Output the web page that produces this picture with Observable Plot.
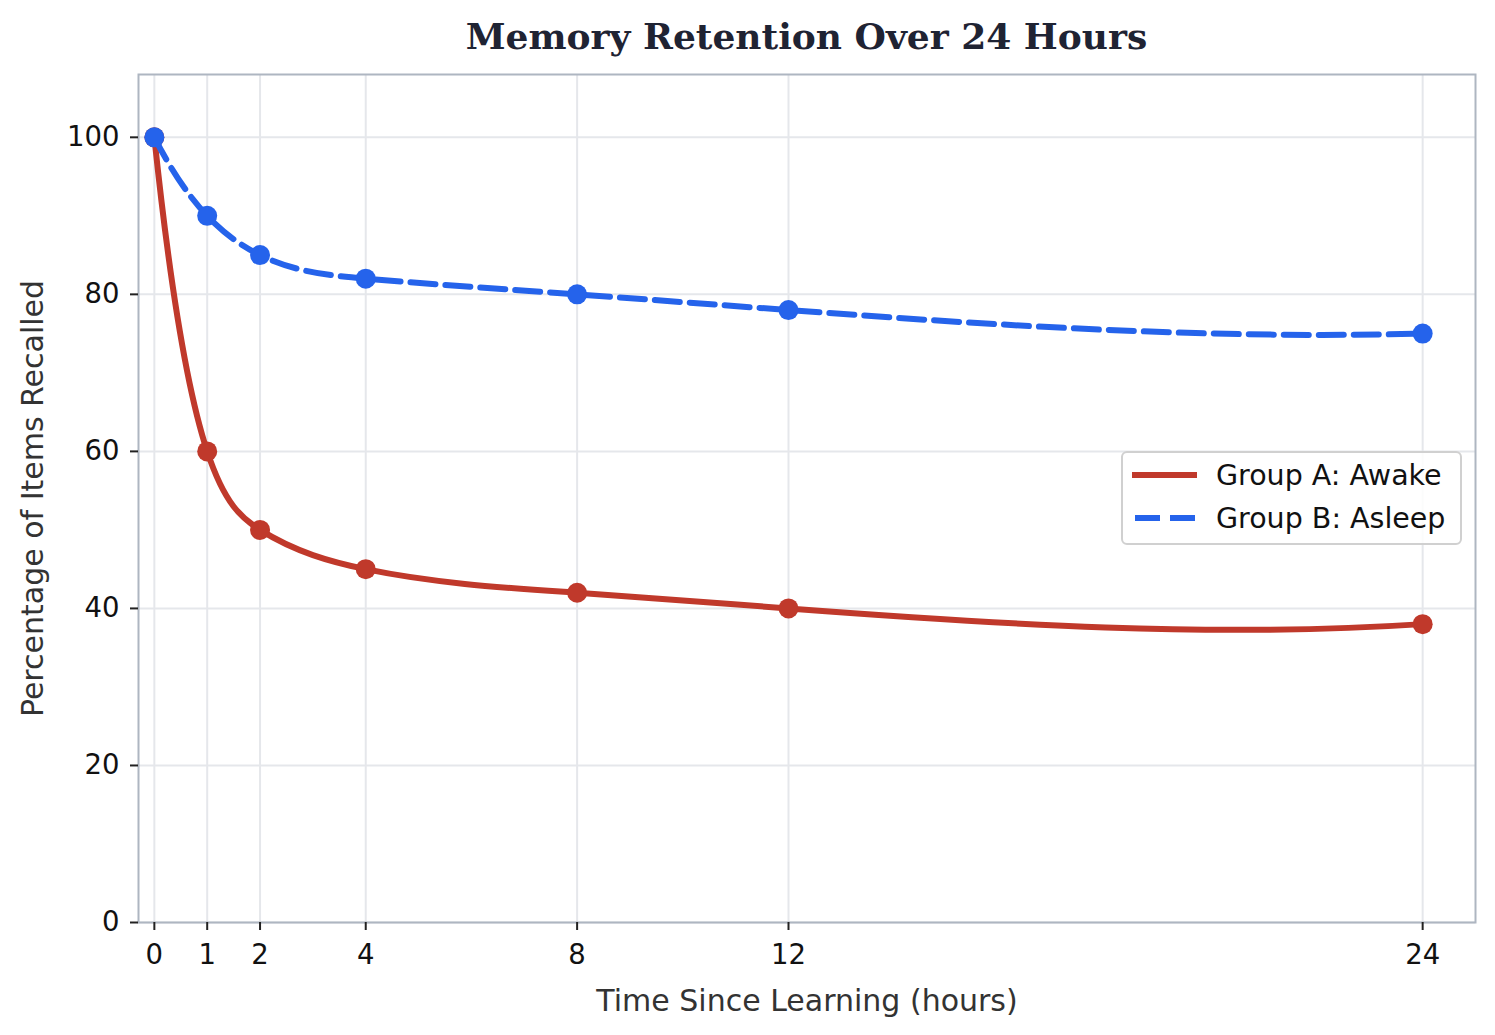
<!DOCTYPE html>
<html>
<head>
<meta charset="utf-8">
<script src="https://cdn.jsdelivr.net/npm/d3@7"></script>
<script src="https://cdn.jsdelivr.net/npm/@observablehq/plot@0.6"></script>
<style>
  html, body { margin: 0; padding: 0; background: #fff; }
  #wrap { position: relative; width: 1495px; height: 1035px; font-family: "DejaVu Sans", sans-serif; }
  #title { height: 60px; line-height: 72px; text-align: center; font-family: "DejaVu Serif", serif; font-weight: bold; font-size: 36px; color: #1f2333; padding-left: 118px; box-sizing: border-box; }
  #legend { position: absolute; left: 1121px; top: 451px; width: 341px; height: 94px; box-sizing: border-box; border: 2px solid #d0d0d0; border-radius: 6px; background: rgba(255,255,255,0.85); }
  .row { position: absolute; left: 7px; height: 40px; display: flex; align-items: center; font-size: 28.5px; color: #111; }
  .row svg { margin-right: 18px; }
</style>
</head>
<body>
<div id="wrap">
  <div id="title">Memory Retention Over 24 Hours</div>
  <div id="chart"></div>
  <div id="legend"></div>
</div>
<script>
const hours = [0, 1, 2, 4, 8, 12, 24];
const awake = [100, 60, 50, 45, 42, 40, 38];
const asleep = [100, 90, 85, 82, 80, 78, 75];
const xTicks = [0, 1, 2, 4, 8, 12, 24];
const yTicks = [0, 20, 40, 60, 80, 100];
const seriesNames = ["Group A: Awake", "Group B: Asleep"];
const colors = ["#c0392b", "#2563eb"];

const dataA = hours.map((h, i) => ({ h, v: awake[i] }));
const dataB = hours.map((h, i) => ({ h, v: asleep[i] }));

// Custom curve: cubic spline y(x) with not-a-knot end conditions, drawn as exact Bezier segments
function solve(A, b) {
  const n = b.length;
  A = A.map(r => r.slice()); b = b.slice();
  for (let c = 0; c < n; c++) {
    let p = c;
    for (let r = c + 1; r < n; r++) if (Math.abs(A[r][c]) > Math.abs(A[p][c])) p = r;
    [A[c], A[p]] = [A[p], A[c]]; [b[c], b[p]] = [b[p], b[c]];
    for (let r = c + 1; r < n; r++) {
      const f = A[r][c] / A[c][c];
      for (let k = c; k < n; k++) A[r][k] -= f * A[c][k];
      b[r] -= f * b[c];
    }
  }
  const x = new Array(n).fill(0);
  for (let r = n - 1; r >= 0; r--) {
    let s = b[r];
    for (let k = r + 1; k < n; k++) s -= A[r][k] * x[k];
    x[r] = s / A[r][r];
  }
  return x;
}
function splineCurve(context) {
  let pts = [];
  return {
    areaStart() {}, areaEnd() {},
    lineStart() { pts = []; },
    point(x, y) { pts.push([+x, +y]); },
    lineEnd() {
      const n = pts.length;
      if (n === 0) return;
      context.moveTo(pts[0][0], pts[0][1]);
      if (n < 4) { for (let i = 1; i < n; i++) context.lineTo(pts[i][0], pts[i][1]); return; }
      const X = pts.map(p => p[0]), Y = pts.map(p => p[1]);
      const h = []; for (let i = 0; i < n - 1; i++) h.push(X[i + 1] - X[i]);
      const A = Array.from({ length: n }, () => new Array(n).fill(0));
      const b = new Array(n).fill(0);
      A[0][0] = h[1]; A[0][1] = -(h[0] + h[1]); A[0][2] = h[0];
      for (let i = 1; i < n - 1; i++) {
        A[i][i - 1] = h[i - 1]; A[i][i] = 2 * (h[i - 1] + h[i]); A[i][i + 1] = h[i];
        b[i] = 6 * ((Y[i + 1] - Y[i]) / h[i] - (Y[i] - Y[i - 1]) / h[i - 1]);
      }
      A[n - 1][n - 3] = h[n - 2]; A[n - 1][n - 2] = -(h[n - 3] + h[n - 2]); A[n - 1][n - 1] = h[n - 3];
      const M = solve(A, b);
      for (let i = 0; i < n - 1; i++) {
        const s = (Y[i + 1] - Y[i]) / h[i];
        const d0 = s - h[i] * (2 * M[i] + M[i + 1]) / 6;
        const d1 = s + h[i] * (M[i] + 2 * M[i + 1]) / 6;
        context.bezierCurveTo(X[i] + h[i] / 3, Y[i] + d0 * h[i] / 3, X[i + 1] - h[i] / 3, Y[i + 1] - d1 * h[i] / 3, X[i + 1], Y[i + 1]);
      }
    }
  };
}

const chart = Plot.plot({
  width: 1495,
  height: 975,
  marginTop: 14,
  marginBottom: 113,
  marginLeft: 138,
  marginRight: 20,
  style: { fontFamily: "DejaVu Sans, sans-serif", background: "#fff" },
  x: { domain: [-0.3, 25] },
  y: { domain: [0, 108] },
  marks: [
    Plot.gridX(xTicks, { stroke: "#e5e7eb", strokeOpacity: 1, strokeWidth: 2 }),
    Plot.gridY(yTicks, { stroke: "#e5e7eb", strokeOpacity: 1, strokeWidth: 2 }),
    Plot.frame({ stroke: "#aeb6c1", strokeWidth: 2 }),
    Plot.axisX(xTicks, {
      tickSize: 8, tickPadding: 14, fontSize: 27.5, stroke: "#222", strokeWidth: 2, color: "#111",
      label: "Time Since Learning (hours)", labelAnchor: "center", labelArrow: "none", labelOffset: 88
    }),
    Plot.axisY(yTicks, {
      tickSize: 8, tickPadding: 11, fontSize: 27.5, stroke: "#222", strokeWidth: 2, color: "#111",
      label: "Percentage of Items Recalled", labelAnchor: "center", labelArrow: "none", labelOffset: 117
    }),
    Plot.line(dataA, { x: "h", y: "v", stroke: colors[0], strokeWidth: 6, curve: splineCurve }),
    Plot.dot(dataA, { x: "h", y: "v", r: 10, fill: colors[0] }),
    Plot.line(dataB, { x: "h", y: "v", stroke: colors[1], strokeWidth: 6, strokeDasharray: "25 10", curve: splineCurve }),
    Plot.dot(dataB, { x: "h", y: "v", r: 10, fill: colors[1] })
  ]
});
chart.querySelectorAll("g[aria-label='x-axis label'] text, g[aria-label='y-axis label'] text").forEach(t => {
  t.setAttribute("font-size", "30");
  t.setAttribute("fill", "#333");
});
document.getElementById("chart").appendChild(chart);

const legend = document.getElementById("legend");
seriesNames.forEach((name, i) => {
  const row = document.createElement("div");
  row.className = "row";
  row.style.top = (i === 0 ? 2 : 45) + "px";
  const dash = i === 1 ? 'stroke-dasharray="25 10" stroke-dashoffset="-3"' : "";
  row.innerHTML = `<svg width="68" height="12"><line x1="2" y1="6" x2="67" y2="6" stroke="${colors[i]}" stroke-width="6" ${dash}/></svg><span>${name}</span>`;
  legend.appendChild(row);
});
</script>
</body>
</html>
